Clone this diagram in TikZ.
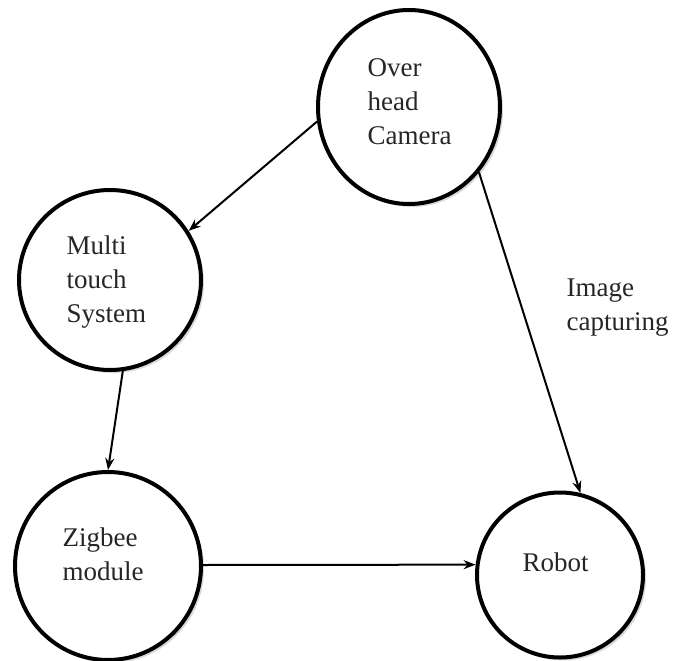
\documentclass[tikz,border=0pt]{standalone}
\usepackage{fontspec}
\setmainfont{Liberation Serif}
\usetikzlibrary{shapes.geometric,arrows.meta,shadows}
\begin{document}
\begin{tikzpicture}[x=1pt,y=-1pt,
  bub/.style={ellipse,draw=black,line width=4pt,fill=white,
    drop shadow={opacity=0.3,shadow xshift=3pt,shadow yshift=-3pt}},
  lbl/.style={font=\fontsize{27}{34}\selectfont,align=left,anchor=west,text=black!85},
  arr/.style={line width=2pt,-{Stealth[length=12pt,width=9pt]}}]
\useasboundingbox (0,0) rectangle (688,661);
\node[bub,minimum width=182pt,minimum height=194pt] (cam) at (409,107) {};
\node[bub,minimum width=182pt,minimum height=180pt] (mts) at (110,280) {};
\node[bub,minimum width=186pt,minimum height=188pt] (zig) at (108,566) {};
\node[bub,minimum width=166pt,minimum height=165pt] (rob) at (560,575) {};
\node[lbl] (camT) at (364,102) {Over\\head\\Camera};
\node[lbl] (mtsT) at (63,282) {Multi\\touch\\System};
\node[lbl] (zigT) at (59,554) {Zigbee\\module};
\node[lbl] (robT) at (519,562) {Robot};
\node[lbl] (capT) at (563,308) {Image\\capturing};
\draw[arr] (cam.189) -- (mts.32);
\draw[arr] (mts.278) -- (zig.90);
\draw[arr] (cam.317) -- (rob.76);
\draw[arr] (zig.east |- 0,565) -- (rob.173);
\end{tikzpicture}
\end{document}
